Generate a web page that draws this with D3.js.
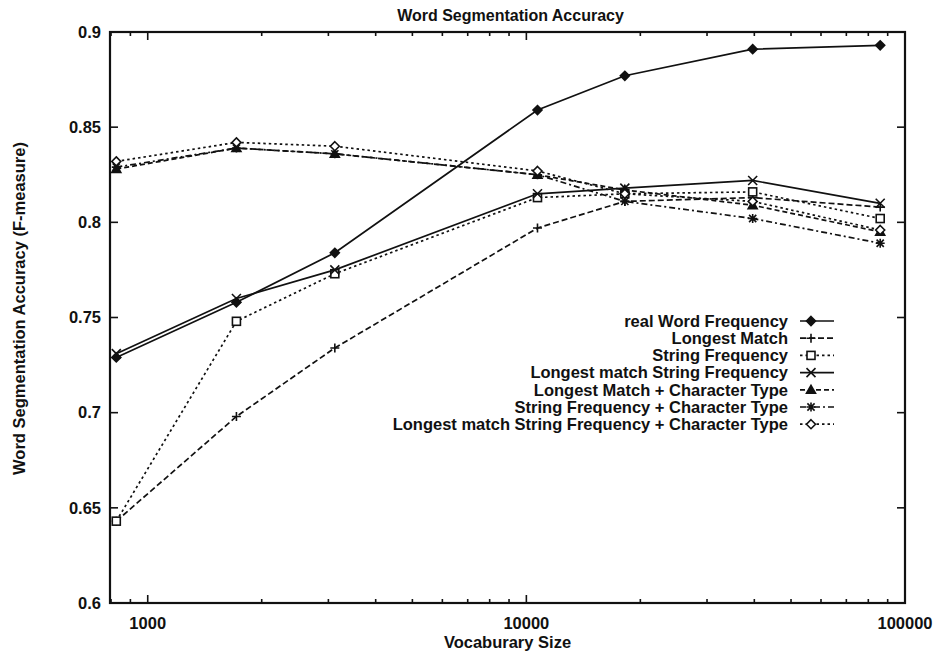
<!DOCTYPE html>
<html>
<head>
<meta charset="utf-8">
<script src="https://cdn.jsdelivr.net/npm/d3@7"></script>
<style>
  html, body { margin: 0; padding: 0; background: #fff; }
  svg text { font-family: "Liberation Sans", Arial, Helvetica, sans-serif; font-weight: bold; fill: #111; }
</style>
</head>
<body>
<svg id="chart" width="935" height="651"></svg>
<script>
// Vocabulary sizes (x values shared by every series)
const vocabSizes = [826, 1715, 3120, 10700, 18200, 39600, 86000];

// Series names, in legend order
const seriesNames = [
  "real Word Frequency",
  "Longest Match",
  "String Frequency",
  "Longest match String Frequency",
  "Longest Match + Character Type",
  "String Frequency + Character Type",
  "Longest match String Frequency + Character Type"
];

// F-measure values per series
const realWordFrequency        = [0.729, 0.758, 0.784, 0.859, 0.877, 0.891, 0.893];
const longestMatch             = [0.643, 0.698, 0.734, 0.797, 0.811, 0.813, 0.808];
const stringFrequency          = [0.643, 0.748, 0.773, 0.813, 0.815, 0.816, 0.802];
const longestMatchStringFreq   = [0.731, 0.760, 0.775, 0.815, 0.818, 0.822, 0.810];
const longestMatchCharType     = [0.828, 0.839, 0.836, 0.825, 0.817, 0.809, 0.795];
const stringFreqCharType       = [0.829, 0.839, 0.836, 0.825, 0.811, 0.802, 0.789];
const longestMatchStringFreqCT = [0.832, 0.842, 0.840, 0.827, 0.815, 0.811, 0.796];

// Axis ticks
const yTicks = [0.6, 0.65, 0.7, 0.75, 0.8, 0.85, 0.9];
const xMajorTicks = [1000, 10000, 100000];
const xTickLabels = ["1000", "10000", "100000"];

const chartTitle = "Word Segmentation Accuracy";
const xTitle = "Vocaburary Size";
const yTitle = "Word Segmentation Accuracy (F-measure)";

const seriesValues = [
  realWordFrequency, longestMatch, stringFrequency, longestMatchStringFreq,
  longestMatchCharType, stringFreqCharType, longestMatchStringFreqCT
];

// Line dash and point symbol per series
const styles = [
  { dash: null,        marker: "diamondFilled" },
  { dash: "6,3",       marker: "plus" },
  { dash: "2.5,3",     marker: "square" },
  { dash: null,        marker: "cross" },
  { dash: "5,3",       marker: "triangle" },
  { dash: "6,3,2,3",   marker: "star" },
  { dash: "2.5,3",     marker: "diamond" }
];

const svg = d3.select("#chart");
const margin = { left: 110, right: 30, top: 32, bottom: 48 };
const W = 935, H = 651;

const x = d3.scaleLog().domain([795, 100000]).range([margin.left, W - margin.right]);
const y = d3.scaleLinear().domain([0.6, 0.9]).range([H - margin.bottom, margin.top]);

const ink = "#111";

// Minor ticks on the log axis
const minorTicks = [];
for (let d = 100; d <= 10000; d *= 10) {
  for (let m = 2; m <= 9; m++) {
    const v = d * m;
    if (v > x.domain()[0] && v < x.domain()[1]) minorTicks.push(v);
  }
}

const frame = svg.append("g");
const x0 = x.range()[0], x1 = x.range()[1], y0 = y.range()[0], y1 = y.range()[1];

// Tick marks on all four sides
const tickG = frame.append("g").attr("stroke", ink).attr("stroke-width", 1.6);
yTicks.forEach(t => {
  tickG.append("line").attr("x1", x0).attr("x2", x0 + 8).attr("y1", y(t)).attr("y2", y(t));
  tickG.append("line").attr("x1", x1).attr("x2", x1 - 8).attr("y1", y(t)).attr("y2", y(t));
});
xMajorTicks.forEach(t => {
  tickG.append("line").attr("x1", x(t)).attr("x2", x(t)).attr("y1", y0).attr("y2", y0 - 8);
  tickG.append("line").attr("x1", x(t)).attr("x2", x(t)).attr("y1", y1).attr("y2", y1 + 8);
});
minorTicks.forEach(t => {
  tickG.append("line").attr("x1", x(t)).attr("x2", x(t)).attr("y1", y0).attr("y2", y0 - 4);
  tickG.append("line").attr("x1", x(t)).attr("x2", x(t)).attr("y1", y1).attr("y2", y1 + 4);
});

// Plot border
frame.append("rect")
  .attr("x", x0).attr("y", y1).attr("width", x1 - x0).attr("height", y0 - y1)
  .attr("fill", "none").attr("stroke", ink).attr("stroke-width", 2.2);

// Tick labels
const labelSize = 16.5;
frame.selectAll(".ylab").data(yTicks).enter().append("text")
  .attr("x", x0 - 9).attr("y", d => y(d)).attr("dy", "0.35em")
  .attr("text-anchor", "end").attr("font-size", labelSize)
  .text(d => d3.format("")(+d.toFixed(2)));
frame.selectAll(".xlab").data(xMajorTicks).enter().append("text")
  .attr("x", d => x(d)).attr("y", y0 + 26)
  .attr("text-anchor", "middle").attr("font-size", labelSize)
  .text((d, i) => xTickLabels[i]);

// Titles
svg.append("text").attr("x", (x0 + x1) / 2 + 3).attr("y", 21)
  .attr("text-anchor", "middle").attr("font-size", 16).text(chartTitle);
svg.append("text").attr("x", (x0 + x1) / 2).attr("y", y0 + 45)
  .attr("text-anchor", "middle").attr("font-size", labelSize).text(xTitle);
svg.append("text")
  .attr("transform", `translate(25, ${(y0 + y1) / 2 - 9}) rotate(-90)`)
  .attr("text-anchor", "middle").attr("font-size", labelSize).text(yTitle);

// Point symbols
function drawMarker(g, kind, cx, cy) {
  const s = 4.5;
  const m = g.append("g").attr("transform", `translate(${cx},${cy})`)
    .attr("stroke", ink).attr("stroke-width", 1.6).attr("fill", "none");
  switch (kind) {
    case "diamondFilled":
      m.append("path").attr("d", `M0,${-s}L${s},0L0,${s}L${-s},0Z`).attr("fill", ink); break;
    case "diamond":
      m.append("path").attr("d", `M0,${-s}L${s},0L0,${s}L${-s},0Z`).attr("fill", "#fff"); break;
    case "plus":
      m.append("path").attr("d", `M${-s},0H${s}M0,${-s}V${s}`); break;
    case "cross":
      m.append("path").attr("d", `M${-s},${-s}L${s},${s}M${-s},${s}L${s},${-s}`); break;
    case "square":
      m.append("rect").attr("x", -s + 0.5).attr("y", -s + 0.5).attr("width", 2 * s - 1).attr("height", 2 * s - 1).attr("fill", "#fff"); break;
    case "triangle":
      m.append("path").attr("d", `M0,${-s}L${s},${s * 0.75}L${-s},${s * 0.75}Z`).attr("fill", ink); break;
    case "star":
      m.append("path").attr("d", `M${-s},0H${s}M0,${-s}V${s}M${-s * 0.8},${-s * 0.8}L${s * 0.8},${s * 0.8}M${-s * 0.8},${s * 0.8}L${s * 0.8},${-s * 0.8}`); break;
  }
}

const line = d3.line().x(d => x(d[0])).y(d => y(d[1]));
const plot = svg.append("g");

seriesValues.forEach((vals, i) => {
  const pts = vocabSizes.map((v, j) => [v, vals[j]]);
  plot.append("path").datum(pts)
    .attr("d", line).attr("fill", "none").attr("stroke", ink)
    .attr("stroke-width", 1.7)
    .attr("stroke-dasharray", styles[i].dash);
  pts.forEach(p => drawMarker(plot, styles[i].marker, x(p[0]), y(p[1])));
});

// Legend
const legend = svg.append("g");
const legTextX = 788, legLineX0 = 800, legLineX1 = 834, legTop = 321, legStep = 17.2;
seriesNames.forEach((name, i) => {
  const ly = legTop + i * legStep;
  legend.append("text").attr("x", legTextX).attr("y", ly).attr("dy", "0.35em")
    .attr("text-anchor", "end").attr("font-size", labelSize).text(name);
  legend.append("line").attr("x1", legLineX0).attr("x2", legLineX1).attr("y1", ly).attr("y2", ly)
    .attr("stroke", ink).attr("stroke-width", 1.7).attr("stroke-dasharray", styles[i].dash);
  drawMarker(legend, styles[i].marker, legLineX0 + 11, ly);
});
</script>
</body>
</html>
